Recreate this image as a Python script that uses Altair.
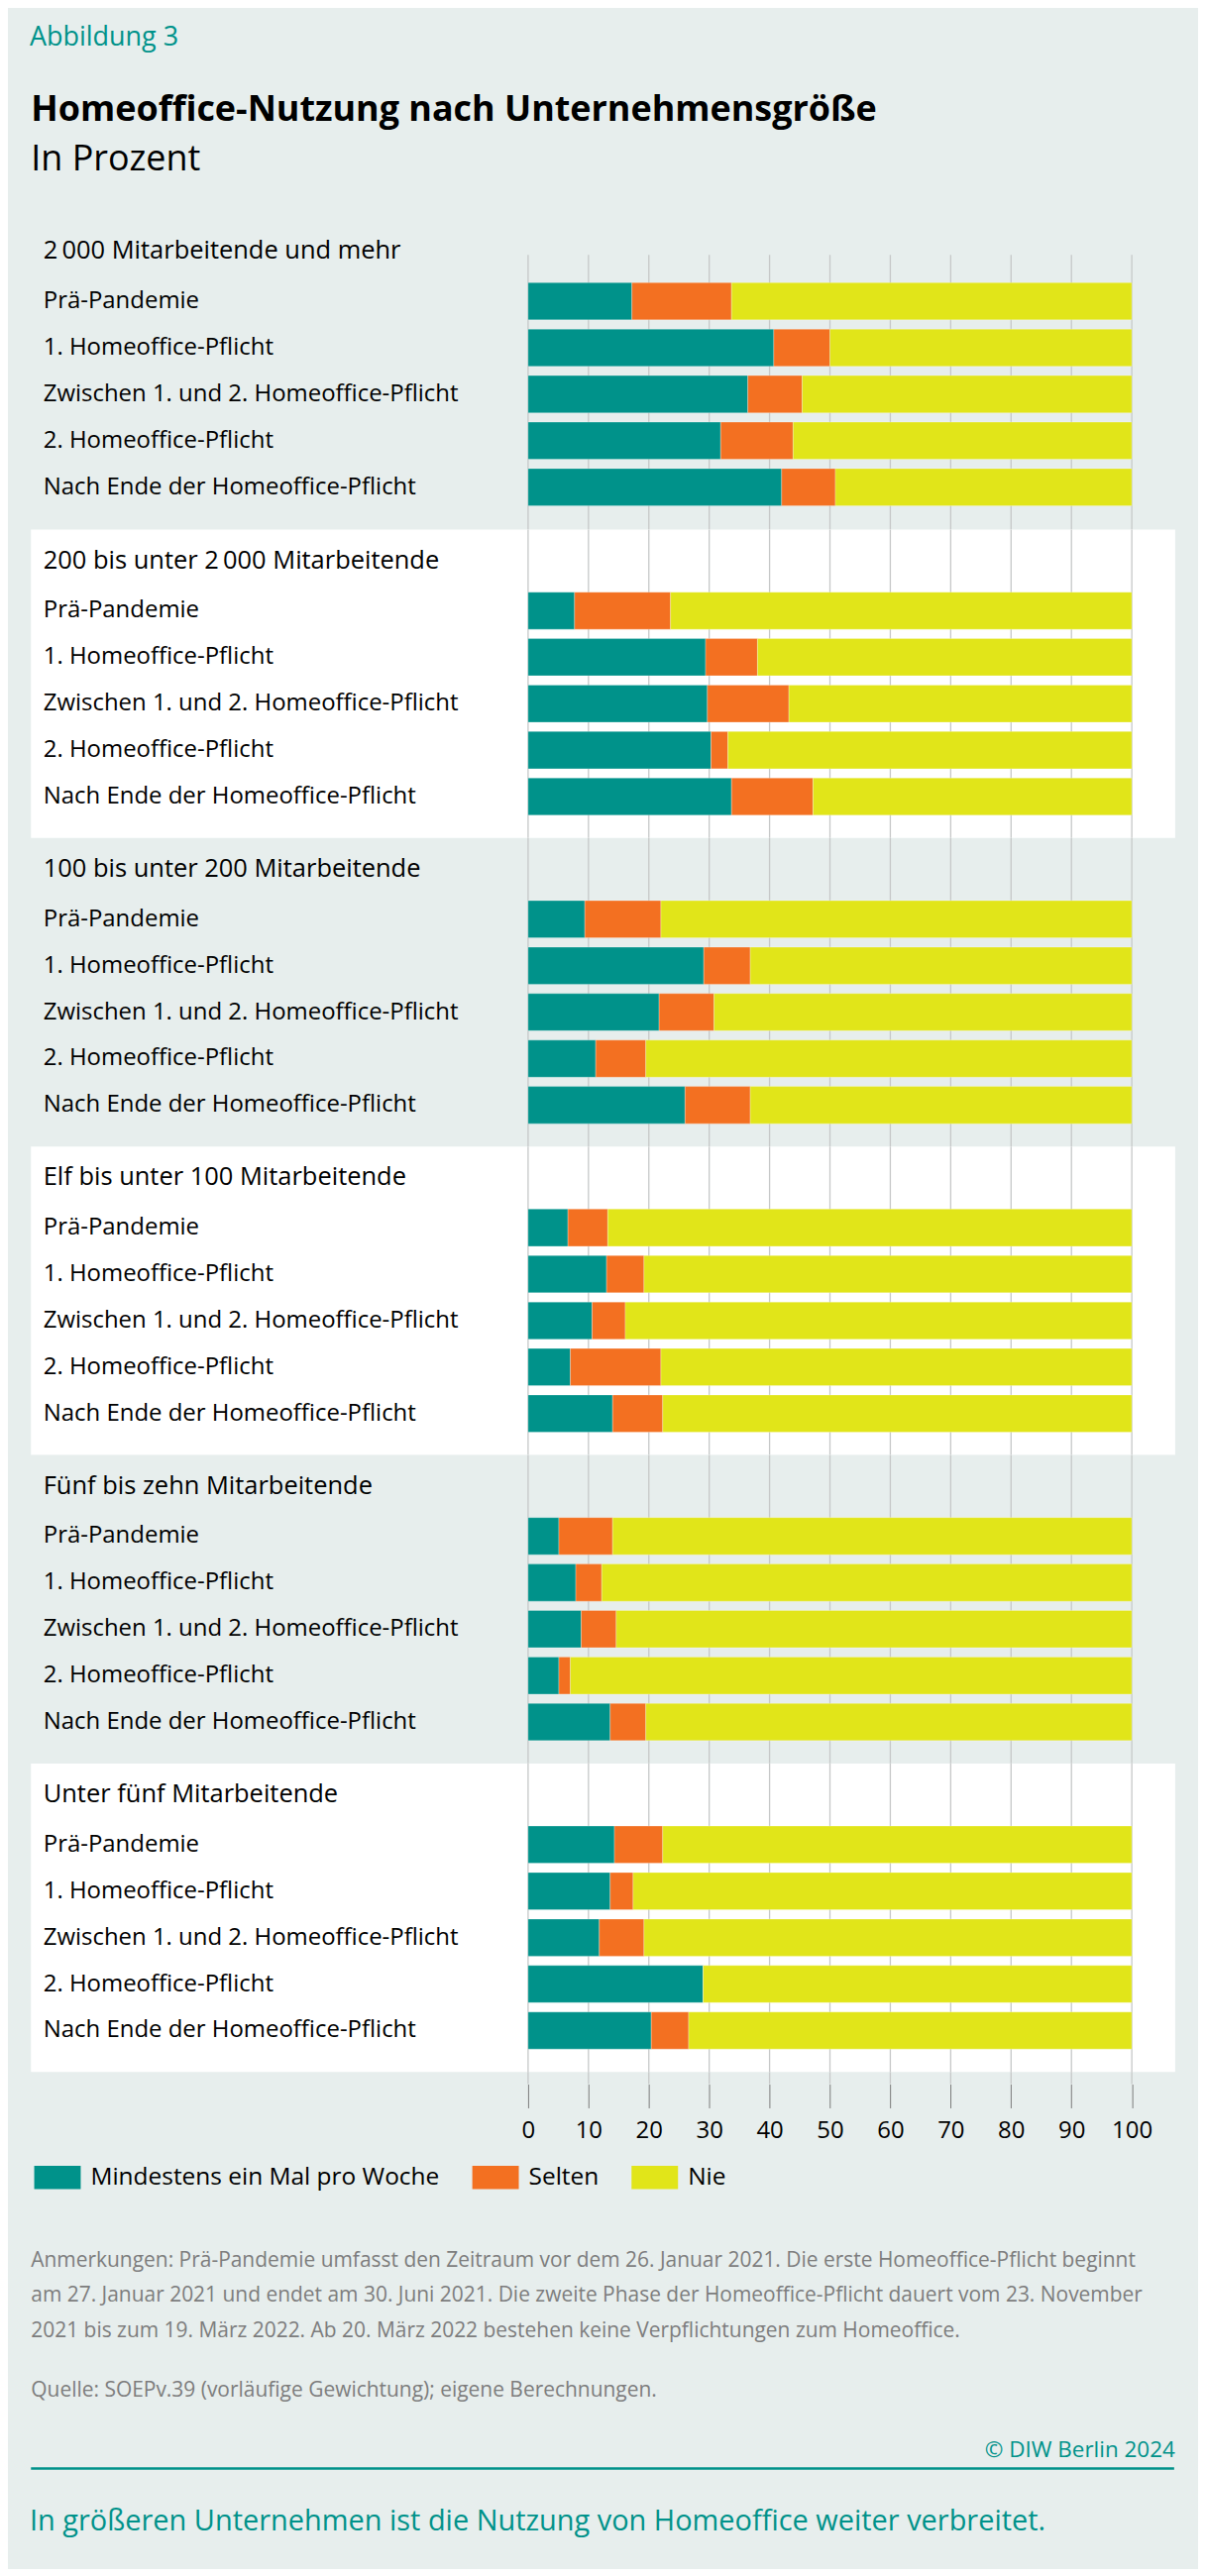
import altair as alt
import pandas as pd

# ---------------- data ----------------
categories = ["Mindestens ein Mal pro Woche", "Selten", "Nie"]
colors = ["#00928a", "#f37021", "#e1e519"]

groups = [
    "2\u2009000 Mitarbeitende und mehr",
    "200 bis unter 2\u2009000 Mitarbeitende",
    "100 bis unter 200 Mitarbeitende",
    "Elf bis unter 100 Mitarbeitende",
    "Fünf bis zehn Mitarbeitende",
    "Unter fünf Mitarbeitende",
]
periods = [
    "Prä-Pandemie",
    "1. Homeoffice-Pflicht",
    "Zwischen 1. und 2. Homeoffice-Pflicht",
    "2. Homeoffice-Pflicht",
    "Nach Ende der Homeoffice-Pflicht",
]

weekly = [
    [17.2, 40.7, 36.4, 31.9, 42.0],
    [7.7, 29.4, 29.7, 30.3, 33.7],
    [9.4, 29.1, 21.7, 11.2, 26.0],
    [6.6, 13.0, 10.6, 7.0, 14.0],
    [5.1, 7.9, 8.8, 5.1, 13.6],
    [14.3, 13.6, 11.8, 29.0, 20.4],
]
rarely = [
    [16.5, 9.3, 9.0, 12.0, 8.9],
    [15.9, 8.6, 13.5, 2.8, 13.5],
    [12.6, 7.7, 9.1, 8.3, 10.8],
    [6.6, 6.2, 5.5, 15.0, 8.3],
    [8.9, 4.3, 5.8, 1.9, 5.9],
    [8.0, 3.8, 7.4, 0.0, 6.2],
]
never = [
    [66.3, 50.0, 54.6, 56.1, 49.1],
    [76.4, 62.0, 56.8, 66.9, 52.8],
    [78.0, 63.2, 69.2, 80.5, 63.2],
    [86.8, 80.8, 83.9, 78.0, 77.7],
    [86.0, 87.8, 85.4, 93.0, 80.5],
    [77.7, 82.6, 80.8, 71.0, 73.4],
]
tick_values = [0, 10, 20, 30, 40, 50, 60, 70, 80, 90, 100]

kicker = "Abbildung 3"
heading = "Homeoffice-Nutzung nach Unternehmensgröße"
subheading = "In Prozent"
notes = [
    "Anmerkungen: Prä-Pandemie umfasst den Zeitraum vor dem 26. Januar 2021. Die erste Homeoffice-Pflicht beginnt",
    "am 27. Januar 2021 und endet am 30. Juni 2021. Die zweite Phase der Homeoffice-Pflicht dauert vom 23. November",
    "2021 bis zum 19. März 2022. Ab 20. März 2022 bestehen keine Verpflichtungen zum Homeoffice.",
]
source = "Quelle: SOEPv.39 (vorläufige Gewichtung); eigene Berechnungen."
copyright_text = "© DIW Berlin 2024"
takeaway = "In größeren Unternehmen ist die Nutzung von Homeoffice weiter verbreitet."

# ---------------- styling ----------------
FONT = "Open Sans"
BG = "#e7eeed"
TEAL = "#00928a"
GRID = "#c6c8c8"
GRAY = "#7d7d7d"
W = 610.5
LEFT = -502.7     # panel left edge relative to plot origin
RIGHT = 654.3     # panel right edge relative to plot origin
HDR_TEST = "indexof(datum.value, 'Mitarbeitende') >= 0"
NOVIEW = alt.ViewBackground(stroke="transparent", strokeWidth=0, fill="transparent")

rows = []
for gi, g in enumerate(groups):
    for pi, p in enumerate(periods):
        for ci, (c, arr) in enumerate(zip(categories, [weekly, rarely, never])):
            rows.append({"group": g, "period": p, "cat": c, "value": arr[gi][pi], "order": ci})
df = pd.DataFrame(rows)
ticks_df = pd.DataFrame({"t": tick_values})
one = pd.DataFrame({"k": [0]})
cat_df = pd.DataFrame({"cat": categories})

xscale = alt.Scale(domain=[0, 100], nice=False, zero=True)
cscale = alt.Scale(domain=categories, range=colors)


def panel(h, fill, opacity=1):
    return alt.Chart(one).mark_rect(fill=fill, opacity=opacity, strokeWidth=0).encode(
        x=alt.value(LEFT), x2=alt.value(RIGHT), y=alt.value(0), y2=alt.value(h)
    )


def group_chart(i):
    first = i == 0
    h = 277.8 if first else 311.8
    rng = [-23.5, 258.5] if first else [11.5, 293.5]
    sub = df[df["group"] == groups[i]]
    bg = panel(h, "white" if i % 2 == 1 else BG)
    grid = alt.Chart(ticks_df).mark_rule(color=GRID, strokeWidth=1.3).encode(
        x=alt.X("t:Q", scale=xscale, axis=None), y=alt.value(0), y2=alt.value(h)
    )
    yaxis = alt.Axis(
        title=None, domain=False, ticks=False, tickSize=0, grid=False, zindex=1,
        labelAlign="left", labelPadding=490.7, labelFont=FONT,
        labelFontSize={"condition": {"test": HDR_TEST, "value": 25.5}, "value": 24},
        labelColor="#000000", labelLimit=1000, labelBaseline="middle",
        labelOffset={"condition": {"test": HDR_TEST, "value": -4}, "value": 0},
    )
    bars = alt.Chart(sub).mark_bar(stroke="#ffffff", strokeWidth=0.6, strokeOpacity=0.45).encode(
        x=alt.X("value:Q", stack="zero", scale=xscale, axis=None),
        y=alt.Y("period:N", scale=alt.Scale(domain=[groups[i]] + periods, range=rng,
                                            paddingInner=0.2, paddingOuter=0.1), axis=yaxis),
        color=alt.Color("cat:N", scale=cscale, legend=None),
        order=alt.Order("order:Q"),
    )
    ch = alt.layer(bg, grid, bars).properties(width=W, height=h, view=NOVIEW)
    if first:
        ch = ch.properties(title=alt.TitleParams(
            text=heading, subtitle=subheading, anchor="start", frame="bounds",
            font=FONT, fontSize=36, fontWeight="bold", color="#000000",
            subtitleFont=FONT, subtitleFontSize=36, subtitleColor="#000000",
            subtitleFontWeight="normal", subtitlePadding=14, offset=61,
        ))
    return ch


charts = [group_chart(i) for i in range(len(groups))]

# axis strip with tick labels + legend
AXH = 12.2
ax_grid = alt.Chart(ticks_df).mark_rule(color=GRID, strokeWidth=1.3).encode(
    x=alt.X("t:Q", scale=xscale, axis=alt.Axis(
        values=tick_values, title=None, domain=False, ticks=True, tickSize=24,
        tickColor="#7a7a7a", tickWidth=1, grid=False, labelFont=FONT, labelFontSize=24,
        labelColor="#000000", labelPadding=11, labelFlush=False, labelOverlap=False, format="d")),
    y=alt.value(0), y2=alt.value(AXH),
)
legend_layer = alt.Chart(cat_df).mark_point(filled=True, opacity=0).encode(
    x=alt.value(10), y=alt.value(6),
    color=alt.Color("cat:N", scale=cscale, legend=alt.Legend(
        orient="none", legendX=-499.4, legendY=82.7, direction="horizontal", title=None,
        symbolType="M-1,-0.5H1V0.5H-1Z", symbolSize=2209, symbolOpacity=1, symbolStrokeWidth=0,
        labelFont=FONT, labelFontSize=24.5, labelColor="#000000", labelOffset=10,
        columnPadding=33, labelLimit=1000, padding=0,
    )),
)
ax_chart = alt.layer(panel(AXH, BG, 0), ax_grid, legend_layer).properties(
    width=W, height=AXH, view=NOVIEW)
charts.append(ax_chart)

# notes (title hangs below an invisible spacer view)
HN = 167.3
notes_chart = panel(HN, BG, 0).properties(width=W, height=HN, view=NOVIEW, title=alt.TitleParams(
    text=notes, subtitle=source, orient="bottom", anchor="start", frame="bounds", offset=0,
    font=FONT, fontSize=21, fontWeight="normal", color=GRAY, lineHeight=35.3,
    subtitleFont=FONT, subtitleFontSize=21, subtitleColor=GRAY, subtitlePadding=39,
))
charts.append(notes_chart)

HC = 190.7
copy_chart = panel(HC, BG, 0).properties(width=W, height=HC, view=NOVIEW, title=alt.TitleParams(
    text=copyright_text, orient="bottom", anchor="end", frame="bounds", offset=0,
    font=FONT, fontSize=22.5, fontWeight="normal", color=TEAL,
))
charts.append(copy_chart)

HF = 68.3
final_rule = alt.Chart(one).mark_rule(color=TEAL, strokeWidth=2.5).encode(
    x=alt.value(LEFT), x2=alt.value(RIGHT - 1), y=alt.value(29)
)
final_chart = alt.layer(panel(HF, BG, 0), final_rule).properties(
    width=W, height=HF, view=NOVIEW, title=alt.TitleParams(
        text=takeaway, orient="bottom", anchor="start", frame="bounds", offset=0,
        font=FONT, fontSize=29, fontWeight="normal", color=TEAL,
    ))
charts.append(final_chart)

chart = alt.vconcat(*charts, spacing=0, bounds="flush").properties(
    title=alt.TitleParams(text=kicker, anchor="start", frame="bounds", font=FONT, fontSize=27,
                          fontWeight="normal", color=TEAL, offset=41),
    padding={"left": 22, "top": 13, "right": 22, "bottom": 30},
    background=BG,
).resolve_scale(color="independent").configure_view(
    stroke="transparent", strokeWidth=0
).configure(font=FONT)

chart.save("out.html", embed_options={"renderer": "svg", "actions": False})
